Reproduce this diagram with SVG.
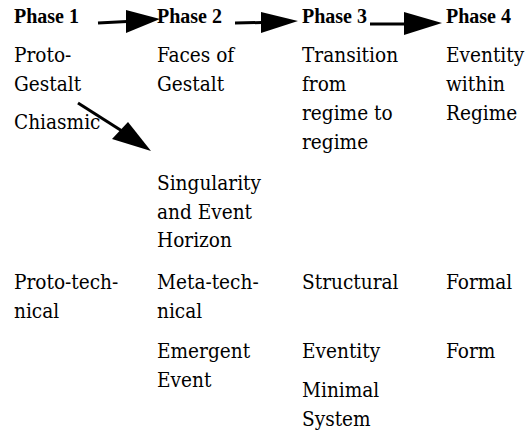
<svg xmlns="http://www.w3.org/2000/svg" width="527" height="435" viewBox="0 0 527 435">
<style>
.hd1{font-family:'Liberation Serif',serif;font-weight:bold;font-size:20px;fill:#000}
.tx{font-family:'DejaVu Serif',serif;font-stretch:condensed;font-size:20.6px;fill:#000}
.ln{stroke:#000;stroke-width:3;fill:none}
.ah{fill:#000}
</style>
<rect width="527" height="435" fill="#fff"/>
<g id="phase1">
<text class="hd1" x="14" y="22.7">Phase 1</text>
<text class="tx" x="14" y="61.7">Proto-</text>
<text class="tx" x="14" y="90.7">Gestalt</text>
<text class="tx" x="14" y="129">Chiasmic</text>
<text class="tx" x="14" y="289">Proto-tech-</text>
<text class="tx" x="14" y="318">nical</text>
</g>
<g id="phase2">
<text class="hd1" x="157" y="22.7">Phase 2</text>
<text class="tx" x="157" y="61.7">Faces of</text>
<text class="tx" x="157" y="90.7">Gestalt</text>
<text class="tx" x="157" y="190">Singularity</text>
<text class="tx" x="157" y="218.5">and Event</text>
<text class="tx" x="157" y="246.7">Horizon</text>
<text class="tx" x="157" y="289">Meta-tech-</text>
<text class="tx" x="157" y="318">nical</text>
<text class="tx" x="157" y="357.5">Emergent</text>
<text class="tx" x="157" y="386.7">Event</text>
</g>
<g id="phase3">
<text class="hd1" x="302" y="22.7">Phase 3</text>
<text class="tx" x="302" y="62">Transition</text>
<text class="tx" x="302" y="91">from</text>
<text class="tx" x="302" y="120">regime to</text>
<text class="tx" x="302" y="149">regime</text>
<text class="tx" x="302" y="289">Structural</text>
<text class="tx" x="302" y="357.7">Eventity</text>
<text class="tx" x="302" y="396.7">Minimal</text>
<text class="tx" x="302" y="426">System</text>
</g>
<g id="phase4">
<text class="hd1" x="446" y="22.7">Phase 4</text>
<text class="tx" x="446" y="62">Eventity</text>
<text class="tx" x="446" y="91">within</text>
<text class="tx" x="446" y="120">Regime</text>
<text class="tx" x="446" y="289">Formal</text>
<text class="tx" x="446" y="358">Form</text>
</g>
<g id="connectors">
<line class="ln" x1="98" y1="23" x2="127" y2="21.5"/>
<polygon class="ah" points="126,10 126,33 160,19"/>
<line class="ln" x1="235" y1="23" x2="262" y2="22.5"/>
<polygon class="ah" points="261,12 261,33 298,21"/>
<line class="ln" x1="370" y1="24" x2="405" y2="24"/>
<polygon class="ah" points="404,12 404,35 442,23"/>
<line class="ln" x1="78" y1="103" x2="122" y2="131"/>
<polygon class="ah" points="128,122 112,139 151,151"/>
</g>
</svg>
